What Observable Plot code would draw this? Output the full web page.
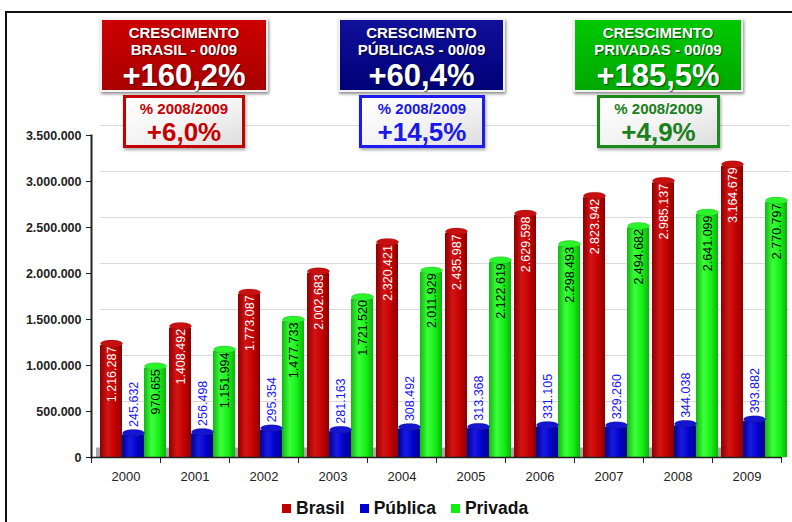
<!DOCTYPE html>
<html>
<head>
<meta charset="utf-8">
<script src="https://cdn.jsdelivr.net/npm/d3@7"></script>
<script src="https://cdn.jsdelivr.net/npm/@observablehq/plot@0.6"></script>
<style>
  html, body { margin: 0; padding: 0; background: #fff; }
  #wrap { position: relative; width: 792px; height: 522px; overflow: hidden; font-family: "Liberation Sans", Arial, sans-serif; background: #fff; }
  #chart { position: absolute; left: 0; top: 0; }
  .frameBox { position: absolute; left: 5px; top: 11px; width: 820px; height: 540px; border: 2px solid #111; box-sizing: border-box; }
  .main { position: absolute; height: 74px; box-sizing: border-box; border: 2px solid #f2f2f2; box-shadow: 1px 2px 3px rgba(0,0,0,0.45); color: #fff; font-weight: bold; text-align: center; text-shadow: 1px 1px 1px rgba(0,0,0,0.6); }
  .main .l1, .main .l2, .main .big, .sub .s1, .sub .s2 { position: absolute; left: 0; right: 0; white-space: nowrap; line-height: 1; }
  .main .l1 { top: 5px; font-size: 15px; }
  .main .l2 { top: 22px; font-size: 15px; }
  .main .big { top: 40px; font-size: 31px; }
  .sub { position: absolute; height: 53px; box-sizing: border-box; border: 3px solid; background: linear-gradient(160deg, #ffffff 0%, #f4f4f4 50%, #dedede 100%); box-shadow: 1px 2px 3px rgba(0,0,0,0.35); font-weight: bold; text-align: center; }
  .sub .s1 { top: 3px; font-size: 15px; }
  .sub .s2 { top: 21px; font-size: 26px; }
  #legend { position: absolute; left: 282px; top: 498px; display: flex; align-items: center; font-weight: bold; font-size: 17.5px; color: #111; }
  #legend .it { display: flex; align-items: center; margin-right: 15px; }
  #legend .sw { width: 9px; height: 9px; margin-right: 5px; }
</style>
</head>
<body>
<div id="wrap">
  <svg width="0" height="0" style="position:absolute">
    <defs>
      <linearGradient id="gRed" x1="0" x2="1" y1="0" y2="0">
        <stop offset="0" stop-color="#8e0000"/>
        <stop offset="0.35" stop-color="#d41414"/>
        <stop offset="0.7" stop-color="#c20000"/>
        <stop offset="1" stop-color="#880000"/>
      </linearGradient>
      <linearGradient id="gBlue" x1="0" x2="1" y1="0" y2="0">
        <stop offset="0" stop-color="#00008a"/>
        <stop offset="0.35" stop-color="#1a1ae6"/>
        <stop offset="0.7" stop-color="#0000c8"/>
        <stop offset="1" stop-color="#000088"/>
      </linearGradient>
      <linearGradient id="gGreen" x1="0" x2="1" y1="0" y2="0">
        <stop offset="0" stop-color="#10b810"/>
        <stop offset="0.35" stop-color="#3cff3c"/>
        <stop offset="0.7" stop-color="#14ee14"/>
        <stop offset="1" stop-color="#0cb00c"/>
      </linearGradient>
    </defs>
  </svg>
  <div id="chart"></div>
  <div class="frameBox"></div>

  <div class="main" style="left:100px; top:18px; width:168px; background:linear-gradient(#cc0000,#a80000);">
    <div class="l1">CRESCIMENTO</div><div class="l2">BRASIL - 00/09</div><div class="big">+160,2%</div>
  </div>
  <div class="sub" style="left:123px; top:95px; width:122px; border-color:#c40000; color:#c40000;">
    <div class="s1">% 2008/2009</div><div class="s2">+6,0%</div>
  </div>

  <div class="main" style="left:338px; top:18px; width:167px; background:linear-gradient(#10109a,#000078);">
    <div class="l1">CRESCIMENTO</div><div class="l2">PÚBLICAS - 00/09</div><div class="big">+60,4%</div>
  </div>
  <div class="sub" style="left:359px; top:95px; width:126px; border-color:#1c1cf0; color:#1a1ae8;">
    <div class="s1">% 2008/2009</div><div class="s2">+14,5%</div>
  </div>

  <div class="main" style="left:573px; top:18px; width:170px; background:linear-gradient(#00c800,#00a800);">
    <div class="l1">CRESCIMENTO</div><div class="l2">PRIVADAS - 00/09</div><div class="big">+185,5%</div>
  </div>
  <div class="sub" style="left:597px; top:95px; width:123px; border-color:#1b8a1b; color:#1b7f1b;">
    <div class="s1">% 2008/2009</div><div class="s2">+4,9%</div>
  </div>

  <div id="legend"></div>
</div>
<script>
const years = [2000, 2001, 2002, 2003, 2004, 2005, 2006, 2007, 2008, 2009];
const brasil = [1216287, 1408492, 1773087, 2002683, 2320421, 2435987, 2629598, 2823942, 2985137, 3164679];
const publica = [245632, 256498, 295354, 281163, 308492, 313368, 331105, 329260, 344038, 393882];
const privada = [970655, 1151994, 1477733, 1721520, 2011929, 2122619, 2298493, 2494682, 2641099, 2770797];
const series = ["Brasil", "Pública", "Privada"];
const yTicks = [0, 500000, 1000000, 1500000, 2000000, 2500000, 3000000, 3500000];

const seriesValues = {"Brasil": brasil, "Pública": publica, "Privada": privada};
const fills = {"Brasil": "url(#gRed)", "Pública": "url(#gBlue)", "Privada": "url(#gGreen)"};
const capFills = {"Brasil": "#c81010", "Pública": "#1515d0", "Privada": "#2af52a"};
const swatch = {"Brasil": "#c00000", "Pública": "#0000cc", "Privada": "#11ee11"};
const labelFill = {"Brasil": "#ffffff", "Pública": "#1414ff", "Privada": "#000000"};

const rows = series.flatMap(s => years.map((yr, i) => ({year: yr, series: s, value: seriesValues[s][i]})));

const locale = d3.formatLocale({decimal: ",", thousands: ".", grouping: [3], currency: ["R$", ""]});
const fmt = locale.format(",d");

const ellipse = {
  draw(ctx) {
    const rx = 11, ry = 3.5, k = 0.5523;
    ctx.moveTo(-rx, 0);
    ctx.bezierCurveTo(-rx, -ry * k, -rx * k, -ry, 0, -ry);
    ctx.bezierCurveTo(rx * k, -ry, rx, -ry * k, rx, 0);
    ctx.bezierCurveTo(rx, ry * k, rx * k, ry, 0, ry);
    ctx.bezierCurveTo(-rx * k, ry, -rx, ry * k, -rx, 0);
    ctx.closePath();
  }
};

const barMarks = series.map(s => Plot.barY(rows.filter(d => d.series === s), {
  fx: "year", x: "series", y: "value", fill: fills[s], dx: 7
}));
const capMarks = series.map(s => Plot.dot(rows.filter(d => d.series === s), {
  fx: "year", x: "series", y: "value", symbol: ellipse, r: 5, fill: capFills[s], stroke: "rgba(0,0,0,0.25)", strokeWidth: 0.6, dx: 7, dy: -2
}));
const labelMarks = [
  Plot.text(rows.filter(d => d.series === "Brasil"), {fx: "year", x: "series", y: "value", text: d => fmt(d.value), rotate: -90, textAnchor: "end", fill: labelFill["Brasil"], dx: 7, dy: 1, fontSize: 12.5}),
  Plot.text(rows.filter(d => d.series === "Privada"), {fx: "year", x: "series", y: "value", text: d => fmt(d.value), rotate: -90, textAnchor: "end", fill: labelFill["Privada"], dx: 7, dy: 1, fontSize: 12.5}),
  Plot.text(rows.filter(d => d.series === "Pública"), {fx: "year", x: "series", y: "value", text: d => fmt(d.value), rotate: -90, textAnchor: "start", fill: labelFill["Pública"], dx: 7, dy: -8, fontSize: 12.5})
];

const chart = Plot.plot({
  width: 792,
  height: 522,
  marginTop: 135,
  marginBottom: 65,
  marginLeft: 91,
  marginRight: 11,
  style: {fontFamily: "'Liberation Sans', Arial, sans-serif", fontSize: "12px", color: "#222", background: "transparent", overflow: "visible"},
  fx: {domain: years, padding: 0, label: null},
  x: {domain: series, paddingInner: 0, paddingOuter: 0.05, axis: null},
  y: {domain: [0, 3500000], label: null},
  marks: [
    Plot.ruleY([0], {stroke: "#a8a8a8", strokeWidth: 10, dy: -5, dx: 5}),
    Plot.gridY(yTicks.filter(v => v > 0), {stroke: "#dadada", strokeOpacity: 1, strokeWidth: 1.2, dx: 9, dy: -10}),
    ...barMarks,
    ...capMarks,
    ...labelMarks,
    Plot.ruleY([0], {stroke: "#222", strokeWidth: 1.5}),
    Plot.frame({anchor: "left", facetAnchor: "left", stroke: "#222", strokeWidth: 2}),
    Plot.axisY(yTicks, {tickSize: 5, tickPadding: 5, tickFormat: fmt, fontWeight: "bold", fontSize: 12.5, color: "#222", label: null}),
    Plot.axisFx({anchor: "bottom", tickSize: 0, tickPadding: 14, tickFormat: d => String(d), fontSize: 13, color: "#222", label: null}),
    Plot.axisFx({anchor: "bottom", tickSize: 6, tickFormat: () => "", dx: -34.5, color: "#222", label: null}),
    Plot.axisFx({anchor: "bottom", tickSize: 6, tickFormat: () => "", dx: 34.5, color: "#222", label: null})
  ]
});
document.getElementById("chart").appendChild(chart);

const legend = document.getElementById("legend");
series.forEach(s => {
  const it = document.createElement("div");
  it.className = "it";
  const sw = document.createElement("span");
  sw.className = "sw";
  sw.style.background = swatch[s];
  const tx = document.createElement("span");
  tx.textContent = s;
  it.appendChild(sw);
  it.appendChild(tx);
  legend.appendChild(it);
});
</script>
</body>
</html>
